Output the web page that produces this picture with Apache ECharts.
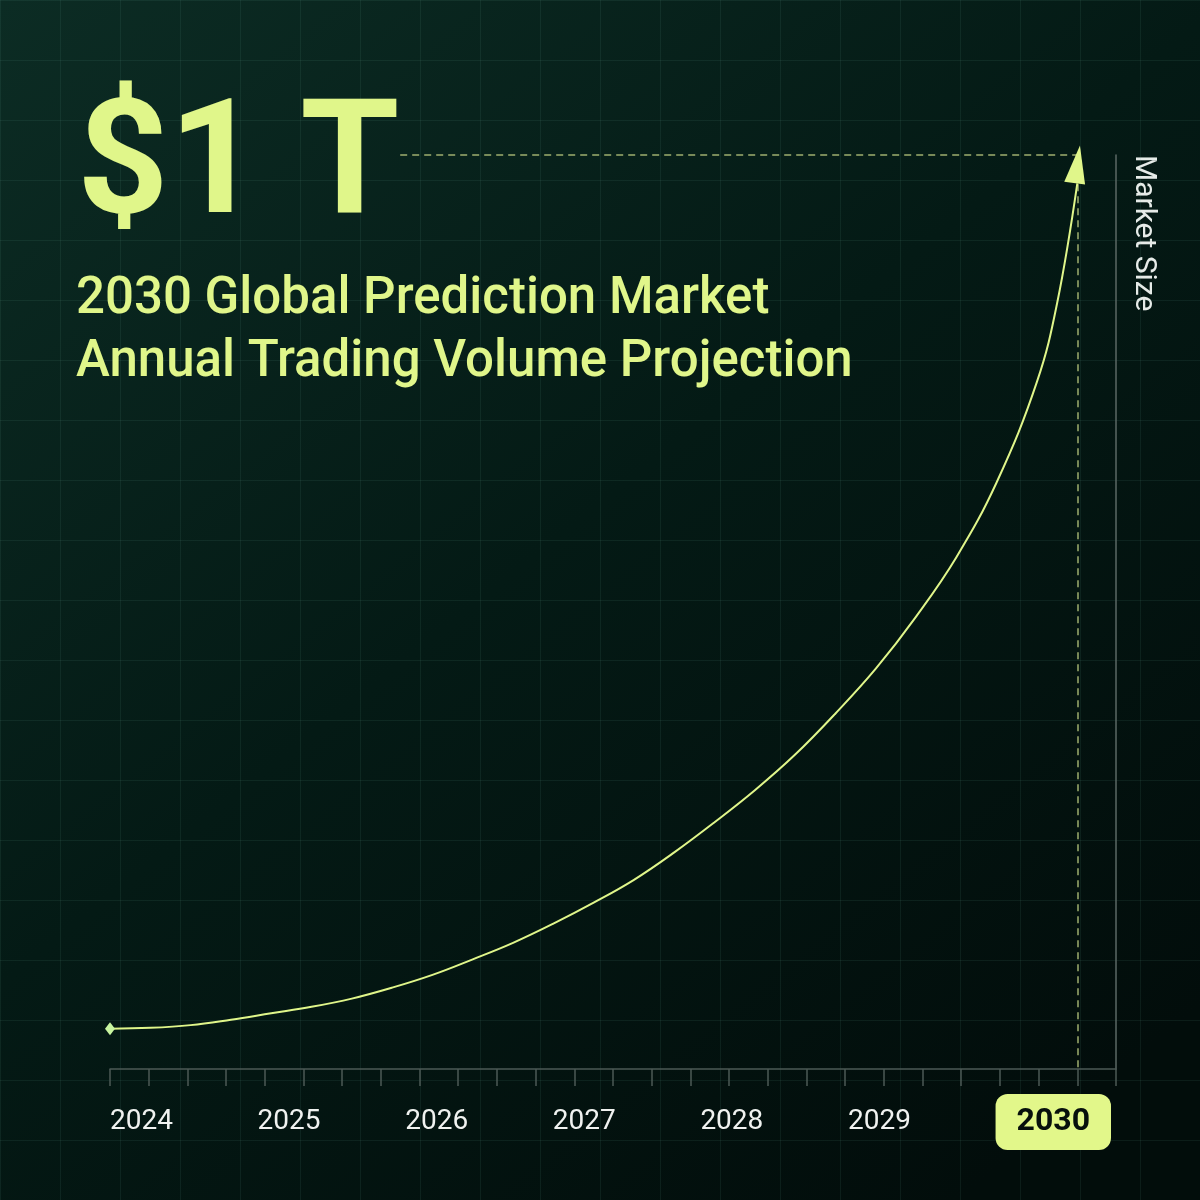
<!DOCTYPE html>
<html>
<head>
<meta charset="utf-8">
<title>2030 Global Prediction Market</title>
<script src="https://cdn.jsdelivr.net/npm/echarts@6/dist/echarts.min.js"></script>
<style>
  html, body { margin: 0; padding: 0; background: #041a15; }
  #main { width: 1200px; height: 1200px; }
</style>
</head>
<body>
<div id="main"></div>
<script>
// labels under the axis
var yearLabels = ['2024', '2025', '2026', '2027', '2028', '2029', '2030'];
// points (every quarter, plus one extra on the steep end): year and market size ($B)
var pointYears = [2024, 2024.25, 2024.5, 2024.75, 2025, 2025.25, 2025.5, 2025.75,
    2026, 2026.25, 2026.5, 2026.75, 2027, 2027.25, 2027.5, 2027.75,
    2028, 2028.25, 2028.5, 2028.75, 2029, 2029.25, 2029.5, 2029.75, 2029.875, 2030];
var pointValues = [44, 45, 48, 54, 61, 68, 77, 89,
    103, 120, 138, 159, 182, 207, 237, 270,
    305, 344, 389, 438, 495, 560, 642, 752, 838, 969];
var targetValue = 1000;   // $1 T
var minorTicks = 26;

var lime = '#e0f68a';
var font = 'Roboto';
var last = pointYears.length - 1;

var seriesData = pointYears.map(function (yr, i) {
    var item = { value: [yr, pointValues[i]] };
    if (i === 0) {
        item.symbol = 'diamond';
        item.symbolSize = [10, 13];
        item.itemStyle = { color: '#c8f5a0' };
    } else if (i === last) {
        // arrow head sits on the end of the curve
        item.symbol = 'triangle';
        item.symbolSize = [21, 38];
        item.symbolOffset = [0, -19];
        item.symbolRotate = -8;
        item.itemStyle = { color: lime };
    }
    return item;
});

var myChart = echarts.init(document.getElementById('main'));
var option = {
    animation: false,
    backgroundColor: {
        type: 'linear', x: 0, y: 0, x2: 0.8, y2: 1,
        colorStops: [
            { offset: 0, color: '#0c2c24' },
            { offset: 0.5, color: '#041a15' },
            { offset: 1, color: '#020d0b' }
        ]
    },
    title: [
        {
            text: '$1 T', left: 77, top: 92, padding: 0,
            textStyle: { color: lime, fontSize: 160, fontWeight: 700, fontFamily: font, lineHeight: 160 }
        },
        {
            text: '2030 Global Prediction Market\nAnnual Trading Volume Projection',
            left: 76, top: 268, padding: 0,
            textStyle: { color: lime, fontSize: 51, fontWeight: 500, fontFamily: font, lineHeight: 63.5 }
        }
    ],
    grid: [
        { left: 110, right: 84, top: 155, bottom: 131 },
        // faint background squares
        { left: -4.7, top: -2.4, width: 1274, height: 1268 }
    ],
    xAxis: [
        {
            // minor ticks along the base line
            gridIndex: 0, type: 'value', position: 'bottom',
            min: 0, max: minorTicks, interval: 1,
            axisLine: { show: true, onZero: false, lineStyle: { color: '#4c5955', width: 1.5 } },
            axisTick: { show: true, length: 17, lineStyle: { color: '#4c5955', width: 1.5 } },
            axisLabel: { show: false },
            splitLine: { show: false }
        },
        {
            // years, used by the curve
            gridIndex: 0, type: 'value', position: 'top', show: false,
            min: 2024, max: 2030.24
        },
        {
            // year labels
            gridIndex: 0, type: 'value', position: 'bottom',
            min: 0, max: 6.816, interval: 1,
            axisLine: { show: false, onZero: false },
            axisTick: { show: false },
            splitLine: { show: false },
            axisLabel: {
                show: true, margin: 53, align: 'left', verticalAlign: 'middle',
                showMinLabel: true, showMaxLabel: true,
                color: '#f0f2f0', fontSize: 28, fontWeight: 400, fontFamily: font,
                formatter: function (v) {
                    if (Math.round(v) !== v || !yearLabels[v]) return '';
                    return v === yearLabels.length - 1 ? '{hl|' + yearLabels[v] + '}' : yearLabels[v];
                },
                rich: {
                    hl: {
                        backgroundColor: '#e2f78a', borderRadius: 12, padding: [12, 21, 12, 21],
                        color: '#07100c', fontSize: 32, fontWeight: 700, fontFamily: font
                    }
                }
            }
        },
        {
            gridIndex: 1, type: 'value', min: 0, max: 20, interval: 1,
            axisLine: { show: false }, axisTick: { show: false }, axisLabel: { show: false },
            splitLine: { show: true, lineStyle: { color: 'rgba(110,180,160,0.1)', width: 1 } }
        }
    ],
    yAxis: [
        {
            gridIndex: 0, type: 'value', position: 'right', min: 0, max: targetValue,
            axisLine: { show: true, onZero: false, lineStyle: { color: '#5b6864', width: 1.5 } },
            axisTick: { show: false }, axisLabel: { show: false }, splitLine: { show: false }
        },
        {
            gridIndex: 1, type: 'value', min: 0, max: 20, interval: 1, inverse: true,
            axisLine: { show: false }, axisTick: { show: false }, axisLabel: { show: false },
            splitLine: { show: true, lineStyle: { color: 'rgba(110,180,160,0.1)', width: 1 } }
        }
    ],
    graphic: [
        {
            type: 'text', x: 1143, y: 155, rotation: -Math.PI / 2,
            style: {
                text: 'Market Size', fill: '#e6ebe8',
                font: '400 30px Roboto', textAlign: 'left', textVerticalAlign: 'middle'
            }
        }
    ],
    series: [
        {
            type: 'line', xAxisIndex: 1, yAxisIndex: 0,
            data: seriesData,
            symbol: 'none',
            smooth: 0.4,
            silent: true,
            lineStyle: { color: lime, width: 2 },
            z: 5,
            markLine: {
                silent: true, symbol: ['none', 'none'], label: { show: false },
                lineStyle: { color: '#9fae6f', width: 1.5, type: [7, 5] },
                data: [
                    [{ coord: [2025.8, targetValue] }, { coord: [2030, targetValue] }],
                    [{ coord: [2030, 968] }, { coord: [2030, 0] }]
                ]
            }
        }
    ]
};
myChart.setOption(option);
</script>
</body>
</html>
